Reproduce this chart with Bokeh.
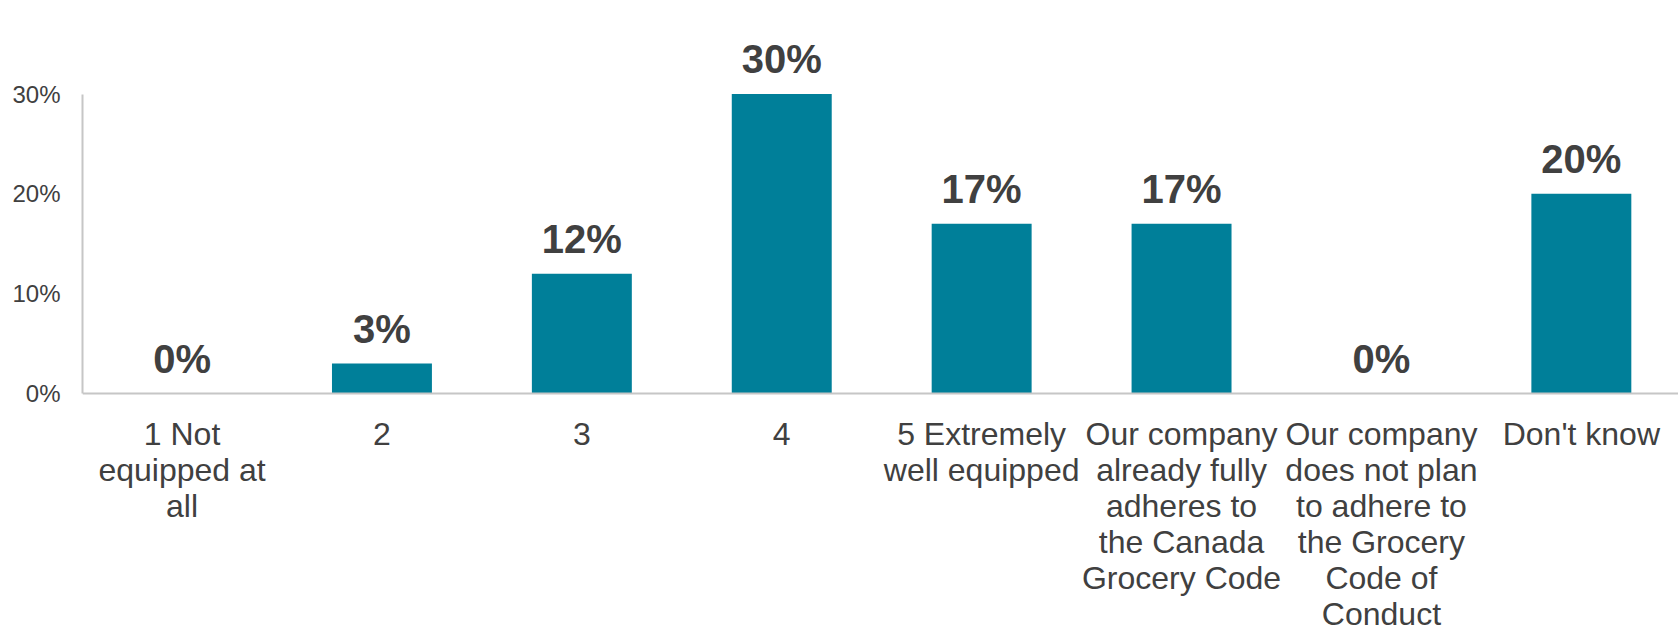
from bokeh.plotting import figure
from bokeh.models import ColumnDataSource, Range1d, FixedTicker, PrintfTickFormatter, Span
from bokeh.core.properties import value
from bokeh.embed import file_html
from bokeh.resources import INLINE

# ---- data ----
categories = [
    "1 Not\nequipped at\nall",
    "2",
    "3",
    "4",
    "5 Extremely\nwell equipped",
    "Our company\nalready fully\nadheres to\nthe Canada\nGrocery Code",
    "Our company\ndoes not plan\nto adhere to\nthe Grocery\nCode of\nConduct",
    "Don't know",
]
values = [0, 3, 12, 30, 17, 17, 0, 20]
value_labels = ["0%", "3%", "12%", "30%", "17%", "17%", "0%", "20%"]
y_ticks = [0, 10, 20, 30]

positions = [i + 1 for i in range(len(categories))]

FONT = "Liberation Sans"
TEXT = "#404040"
BAR = "#007F99"
AXIS = "#C6C6C6"

src = ColumnDataSource(dict(x=positions, top=values, lab=value_labels))

# digit-only labels are placed slightly differently by the text box; split them out
num_idx = [i for i, c in enumerate(categories) if c.isdigit()]
txt_idx = [i for i, c in enumerate(categories) if not c.isdigit()]
src_num = ColumnDataSource(dict(x=[positions[i] for i in num_idx], y=[0] * len(num_idx),
                                cat=[categories[i] for i in num_idx]))
src_txt = ColumnDataSource(dict(x=[positions[i] for i in txt_idx], y=[0] * len(txt_idx),
                                cat=[categories[i] for i in txt_idx]))

p = figure(width=1678, height=626, output_backend="svg", toolbar_location=None,
           x_axis_location=None,
           x_range=Range1d(0.502, 8.486), y_range=Range1d(-23.34, 39.37),
           min_border_left=82, min_border_right=0, min_border_top=0, min_border_bottom=0)
p.outline_line_color = None
p.grid.visible = False
p.background_fill_color = "white"
p.border_fill_color = "white"

p.vbar(x="x", top="top", bottom=0, width=0.5, source=src, fill_color=BAR, line_color=None)

baseline = Span(location=0, dimension="width", line_color=AXIS, line_width=2)
p.add_layout(baseline)

# value labels
p.text(x="x", y="top", text="lab", source=src, text_align="center", text_baseline="alphabetic",
       y_offset=-35, text_font=value(FONT), text_font_style="bold", text_font_size="40px",
       text_color=TEXT)

# category labels
common = dict(anchor="top_center", text_align="center", text_font=value(FONT),
              text_font_size="32px", text_color=TEXT, text_line_height=1.0)
p.text(x="x", y="y", text="cat", source=src_txt, y_offset=22, **common)
p.text(x="x", y="y", text="cat", source=src_num, y_offset=29, **common)

ya = p.yaxis[0]
ya.bounds = (0, 30)
ya.ticker = FixedTicker(ticks=y_ticks)
ya.formatter = PrintfTickFormatter(format="%d%%")
ya.major_tick_line_color = None
ya.minor_tick_line_color = None
ya.axis_line_color = AXIS
ya.axis_line_width = 2
ya.major_label_text_font = FONT
ya.major_label_text_font_size = "24px"
ya.major_label_text_color = TEXT
ya.major_label_standoff = 16

open("out.html", "w").write(file_html(p, INLINE))
